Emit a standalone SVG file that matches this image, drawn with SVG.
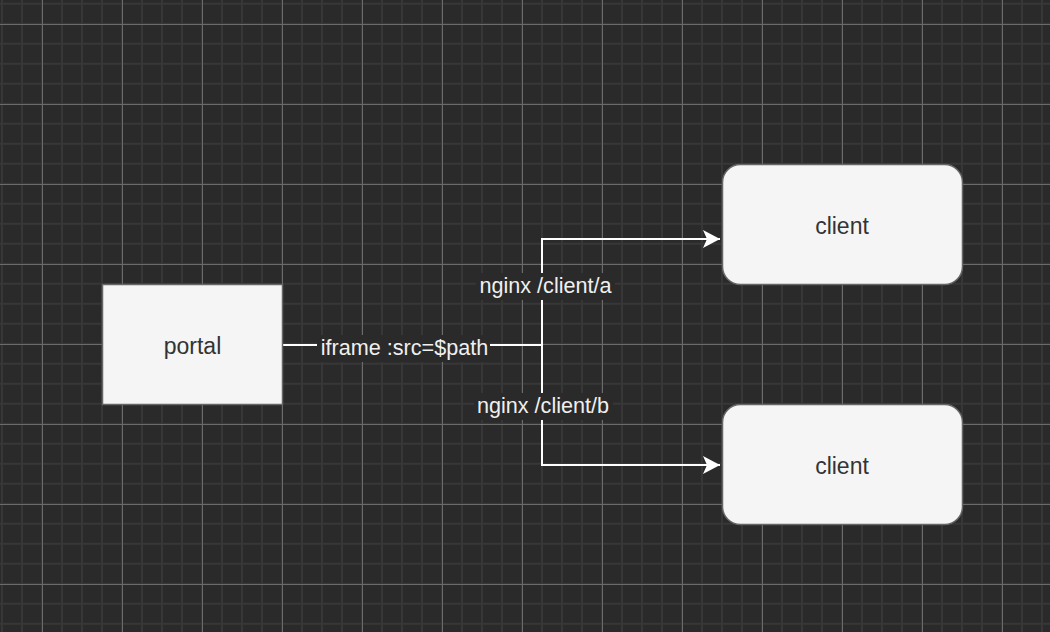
<svg xmlns="http://www.w3.org/2000/svg" width="1050" height="632" viewBox="0 0 1050 632">
  <style>
    .node { fill: #f5f5f5; stroke: #666666; stroke-width: 1.5; }
    .ntext { font-family: "Liberation Sans", Arial, Helvetica, sans-serif; font-size: 23px; fill: #333333; text-anchor: middle; }
    .edge { fill: none; stroke: #ffffff; stroke-width: 2; }
    .lbg { fill: #2a2a2a; }
    .ltext { font-family: "Liberation Sans", Arial, Helvetica, sans-serif; font-size: 21.6px; fill: #f0f0f0; text-anchor: middle; }
  </style>
  <defs>
    <pattern id="minor" patternUnits="userSpaceOnUse" x="1" y="2.8" width="20" height="20">
      <rect x="0" y="0" width="20" height="20" fill="#2a2a2a"/>
      <rect x="0" y="0" width="2" height="20" fill="#373737"/>
      <rect x="0" y="0" width="20" height="2" fill="#373737"/>
    </pattern>
    <pattern id="major" patternUnits="userSpaceOnUse" x="42" y="24" width="80" height="80">
      <rect x="0" y="0" width="1" height="80" fill="#6b6b6b"/>
      <rect x="0" y="0" width="80" height="1" fill="#6b6b6b"/>
    </pattern>
    <marker id="arrow" viewBox="0 0 18 18" refX="17" refY="9" markerWidth="18" markerHeight="18" markerUnits="userSpaceOnUse" orient="auto">
      <path d="M0,0 L17,9 L0,18 L4,9 Z" fill="#ffffff"/>
    </marker>
  </defs>
  <rect x="0" y="0" width="1050" height="632" fill="url(#minor)"/>
  <rect x="0" y="0" width="1050" height="632" fill="url(#major)"/>

  <g id="connectors">
    <path class="edge" d="M283,345 H542 V239 H720" marker-end="url(#arrow)"/>
    <path class="edge" d="M542,345 V465 H720" marker-end="url(#arrow)"/>
    <g id="label-iframe">
      <rect class="lbg" x="317" y="335" width="173" height="27"/>
      <text class="ltext" x="404.5" y="355">iframe :src=$path</text>
    </g>
    <g id="label-a">
      <rect class="lbg" x="476" y="273" width="139" height="27"/>
      <text class="ltext" x="545.5" y="293.3">nginx /client/a</text>
    </g>
    <g id="label-b">
      <rect class="lbg" x="474" y="393" width="139" height="27"/>
      <text class="ltext" x="543" y="413.3">nginx /client/b</text>
    </g>
  </g>

  <g id="portal">
    <rect class="node" x="102.5" y="284.5" width="180" height="120"/>
    <text class="ntext" x="192.5" y="354">portal</text>
  </g>
  <g id="client-a">
    <rect class="node" x="722.5" y="164.5" width="240" height="120" rx="18" ry="18"/>
    <text class="ntext" x="842" y="234">client</text>
  </g>
  <g id="client-b">
    <rect class="node" x="722.5" y="404.5" width="240" height="120" rx="18" ry="18"/>
    <text class="ntext" x="842" y="474">client</text>
  </g>
</svg>
